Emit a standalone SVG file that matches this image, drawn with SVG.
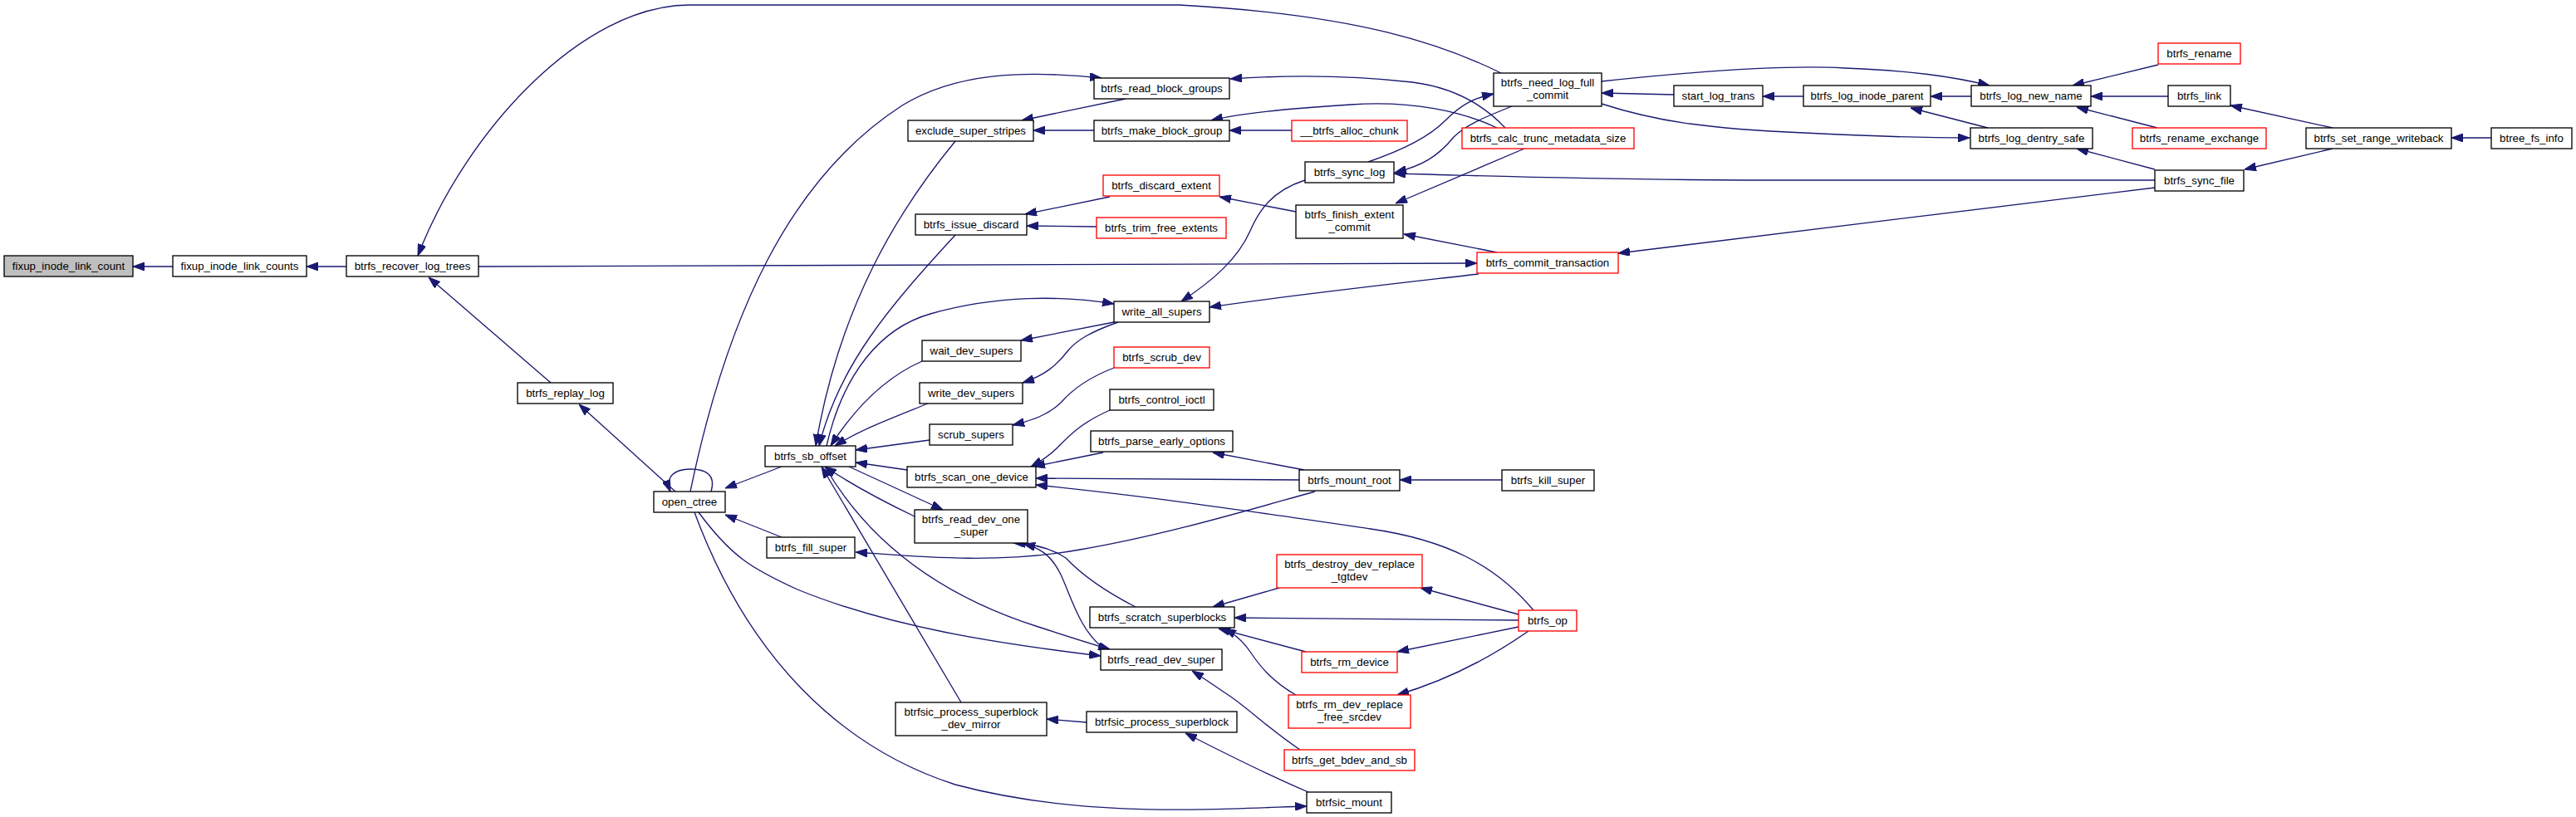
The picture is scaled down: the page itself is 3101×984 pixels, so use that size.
<svg xmlns="http://www.w3.org/2000/svg" width="3101" height="984" viewBox="0 0 3101 984">
<style>
.nd rect{fill:#fff;stroke:#000;stroke-width:1.33}
.rd rect{fill:#fff;stroke:#ff0000;stroke-width:1.33}
.root rect{fill:#bfbfbf;stroke:#000;stroke-width:1.33}
text{font-family:"Liberation Sans",Arial,Helvetica,sans-serif;font-size:13.3px;text-anchor:middle;fill:#000}
#edges path{fill:none;stroke:#191970;stroke-width:1.33;marker-end:url(#ah)}
</style>
<defs>
<marker id="ah" viewBox="0 0 14 10" refX="14" refY="5" markerWidth="14" markerHeight="10" markerUnits="userSpaceOnUse" orient="auto">
<path d="M0,0 L14,5 L0,10 z" fill="#191970" stroke="#191970" stroke-width="1"/>
</marker>
</defs>
<rect width="3101" height="984" fill="#fff"/>
<g id="edges">
<path d="M208,321 L160,321"/>
<path d="M417,321 L369,321"/>
<path d="M1807,88 C1740,55 1640,18 1420,6 L830,6 C700,6 560,160 503,308"/>
<path d="M663,461 L516,334"/>
<path d="M576,321 L1778,317"/>
<path d="M813,592 L697,487"/>
<path d="M856,592 C862,572 850,565 831,565 C812,565 800,574 807,592"/>
<path d="M831,592 C875,380 950,215 1086,127 C1150,88 1230,84 1326,94"/>
<path d="M941,562 L873,588"/>
<path d="M941,647 L873,620"/>
<path d="M841,617 C880,670 905,685 960,710 C1070,755 1200,775 1325,790"/>
<path d="M836,617 C900,790 1010,900 1150,945 C1300,985 1450,975 1573,971"/>
<path d="M1150,170 C1080,255 1010,370 982,537"/>
<path d="M1150,283 C1070,370 1010,440 986,537"/>
<path d="M995,537 C1015,450 1060,395 1120,378 C1200,355 1280,356 1341,366"/>
<path d="M1110,435 C1065,455 1030,490 1000,537"/>
<path d="M1117,486 C1070,505 1035,518 1005,537"/>
<path d="M1119,530 L1030,542"/>
<path d="M1092,566 L1030,557"/>
<path d="M1101,622 C1055,600 1020,580 993,562"/>
<path d="M1022,562 L1135,614"/>
<path d="M1157,846 L989,562"/>
<path d="M993,562 C1050,660 1140,720 1250,755 C1290,768 1315,776 1336,782"/>
<path d="M1330,782 C1300,760 1290,720 1277,692 C1265,668 1252,660 1232,655"/>
<path d="M1367,731 C1330,712 1300,690 1283,672 C1265,660 1245,655 1220,654"/>
<path d="M1565,903 C1530,880 1505,855 1480,838 C1462,826 1448,816 1435,808"/>
<path d="M1308,870 L1260,866"/>
<path d="M1575,954 C1530,935 1470,905 1427,883"/>
<path d="M1355,119 L1230,145"/>
<path d="M1317,157 L1244,157"/>
<path d="M1555,157 L1480,157"/>
<path d="M1812,154 C1780,120 1740,104 1700,99 C1620,90 1540,91 1481,95"/>
<path d="M1802,154 C1760,134 1700,121 1626,126 C1560,130 1500,135 1458,145"/>
<path d="M1336,237 L1234,258"/>
<path d="M1320,273 L1236,272"/>
<path d="M1560,255 L1468,237"/>
<path d="M1341,388 L1229,410"/>
<path d="M1346,388 C1312,400 1296,410 1286,422 C1272,440 1258,452 1231,461"/>
<path d="M1571,217 C1530,230 1515,255 1505,278 C1490,312 1460,338 1422,363"/>
<path d="M1780,330 C1650,345 1550,356 1456,370"/>
<path d="M1341,443 C1310,455 1292,468 1278,484 C1262,500 1243,506 1219,512"/>
<path d="M1336,494 C1300,510 1287,525 1272,540 C1262,550 1252,556 1241,562"/>
<path d="M1328,545 L1244,562"/>
<path d="M1570,566 L1460,545"/>
<path d="M1564,578 L1247,576"/>
<path d="M1846,735 C1800,680 1740,650 1650,637 C1500,615 1400,600 1247,584"/>
<path d="M1583,592 C1500,615 1400,645 1300,662 C1200,680 1100,670 1030,665"/>
<path d="M1808,578 L1685,578"/>
<path d="M1540,708 L1460,731"/>
<path d="M1828,740 L1710,708"/>
<path d="M1828,747 L1486,744"/>
<path d="M1572,785 L1467,757"/>
<path d="M1560,837 C1530,820 1515,800 1505,785 C1495,770 1485,763 1474,757"/>
<path d="M1828,755 L1682,785"/>
<path d="M1840,760 C1790,795 1740,820 1682,837"/>
<path d="M1647,195 C1690,180 1720,165 1740,145 C1760,125 1775,118 1798,113"/>
<path d="M1820,128 C1790,140 1765,150 1750,165 C1730,190 1710,200 1679,208"/>
<path d="M2594,217 L2100,217 C1900,216 1800,212 1678,209"/>
<path d="M1835,179 L1680,245"/>
<path d="M1802,304 L1690,282"/>
<path d="M2594,226 L1948,305"/>
<path d="M2015,114 L1928,112"/>
<path d="M1928,98 C2050,85 2150,78 2220,82 C2300,85 2350,92 2395,103"/>
<path d="M1928,125 C1990,145 2050,155 2172,160 C2250,164 2310,166 2371,166"/>
<path d="M2171,116 L2122,116"/>
<path d="M2373,116 L2324,116"/>
<path d="M2393,154 L2300,130"/>
<path d="M2598,78 L2495,103"/>
<path d="M2610,116 L2517,116"/>
<path d="M2597,154 L2500,129"/>
<path d="M2594,204 L2500,179"/>
<path d="M2808,154 L2685,127"/>
<path d="M2808,179 L2702,204"/>
<path d="M2999,166 L2951,166"/>
</g>
<g id="n1" class="root"><rect x="5" y="308" width="155" height="25"/><text x="82.5" y="325">fixup_inode_link_count</text></g>
<g id="n2" class="nd"><rect x="208" y="308" width="161" height="25"/><text x="288.5" y="325">fixup_inode_link_counts</text></g>
<g id="n3" class="nd"><rect x="417" y="308" width="159" height="25"/><text x="496.5" y="325">btrfs_recover_log_trees</text></g>
<g id="n4" class="nd"><rect x="623" y="461" width="115" height="25"/><text x="680.5" y="478">btrfs_replay_log</text></g>
<g id="n5" class="nd"><rect x="787" y="592" width="86" height="25"/><text x="830" y="609">open_ctree</text></g>
<g id="n6" class="nd"><rect x="921" y="537" width="109" height="25"/><text x="975.5" y="554">btrfs_sb_offset</text></g>
<g id="n7" class="nd"><rect x="923" y="647" width="106" height="25"/><text x="976" y="664">btrfs_fill_super</text></g>
<g id="n8" class="nd"><rect x="1093" y="145" width="151" height="25"/><text x="1168.5" y="162">exclude_super_stripes</text></g>
<g id="n9" class="nd"><rect x="1102" y="258" width="134" height="25"/><text x="1169" y="275">btrfs_issue_discard</text></g>
<g id="n10" class="nd"><rect x="1110" y="410" width="119" height="25"/><text x="1169.5" y="427">wait_dev_supers</text></g>
<g id="n11" class="nd"><rect x="1107" y="461" width="124" height="25"/><text x="1169" y="478">write_dev_supers</text></g>
<g id="n12" class="nd"><rect x="1119" y="511" width="100" height="25"/><text x="1169" y="528">scrub_supers</text></g>
<g id="n13" class="nd"><rect x="1092" y="562" width="155" height="25"/><text x="1169.5" y="579">btrfs_scan_one_device</text></g>
<g id="n14" class="nd"><rect x="1101" y="614" width="136" height="40"/><text x="1169" y="630">btrfs_read_dev_one</text><text x="1169" y="645">_super</text></g>
<g id="n15" class="nd"><rect x="1078" y="846" width="182" height="40"/><text x="1169" y="862">btrfsic_process_superblock</text><text x="1169" y="877">_dev_mirror</text></g>
<g id="n16" class="nd"><rect x="1317" y="94" width="163" height="25"/><text x="1398.5" y="111">btrfs_read_block_groups</text></g>
<g id="n17" class="nd"><rect x="1317" y="145" width="163" height="25"/><text x="1398.5" y="162">btrfs_make_block_group</text></g>
<g id="n18" class="rd"><rect x="1328" y="211" width="140" height="25"/><text x="1398" y="228">btrfs_discard_extent</text></g>
<g id="n19" class="rd"><rect x="1320" y="262" width="156" height="25"/><text x="1398" y="279">btrfs_trim_free_extents</text></g>
<g id="n20" class="nd"><rect x="1341" y="363" width="115" height="25"/><text x="1398.5" y="380">write_all_supers</text></g>
<g id="n21" class="rd"><rect x="1341" y="418" width="115" height="25"/><text x="1398.5" y="435">btrfs_scrub_dev</text></g>
<g id="n22" class="nd"><rect x="1336" y="469" width="125" height="25"/><text x="1398.5" y="486">btrfs_control_ioctl</text></g>
<g id="n23" class="nd"><rect x="1313" y="519" width="171" height="25"/><text x="1398.5" y="536">btrfs_parse_early_options</text></g>
<g id="n24" class="nd"><rect x="1312" y="731" width="174" height="25"/><text x="1399" y="748">btrfs_scratch_superblocks</text></g>
<g id="n25" class="nd"><rect x="1325" y="782" width="146" height="25"/><text x="1398" y="799">btrfs_read_dev_super</text></g>
<g id="n26" class="nd"><rect x="1308" y="857" width="181" height="25"/><text x="1398.5" y="874">btrfsic_process_superblock</text></g>
<g id="n27" class="rd"><rect x="1555" y="145" width="139" height="25"/><text x="1624.5" y="162">__btrfs_alloc_chunk</text></g>
<g id="n28" class="nd"><rect x="1571" y="195" width="107" height="25"/><text x="1624.5" y="212">btrfs_sync_log</text></g>
<g id="n29" class="nd"><rect x="1560" y="247" width="129" height="40"/><text x="1624.5" y="263">btrfs_finish_extent</text><text x="1624.5" y="278">_commit</text></g>
<g id="n30" class="nd"><rect x="1564" y="566" width="121" height="25"/><text x="1624.5" y="583">btrfs_mount_root</text></g>
<g id="n31" class="rd"><rect x="1537" y="668" width="175" height="40"/><text x="1624.5" y="684">btrfs_destroy_dev_replace</text><text x="1624.5" y="699">_tgtdev</text></g>
<g id="n32" class="rd"><rect x="1567" y="785" width="115" height="25"/><text x="1624.5" y="802">btrfs_rm_device</text></g>
<g id="n33" class="rd"><rect x="1551" y="837" width="147" height="40"/><text x="1624.5" y="853">btrfs_rm_dev_replace</text><text x="1624.5" y="868">_free_srcdev</text></g>
<g id="n34" class="rd"><rect x="1546" y="903" width="157" height="25"/><text x="1624.5" y="920">btrfs_get_bdev_and_sb</text></g>
<g id="n35" class="nd"><rect x="1573" y="954" width="102" height="25"/><text x="1624" y="971">btrfsic_mount</text></g>
<g id="n36" class="nd"><rect x="1798" y="88" width="130" height="40"/><text x="1863" y="104">btrfs_need_log_full</text><text x="1863" y="119">_commit</text></g>
<g id="n37" class="rd"><rect x="1760" y="154" width="207" height="25"/><text x="1863.5" y="171">btrfs_calc_trunc_metadata_size</text></g>
<g id="n38" class="rd"><rect x="1778" y="304" width="170" height="25"/><text x="1863" y="321">btrfs_commit_transaction</text></g>
<g id="n39" class="nd"><rect x="1808" y="566" width="111" height="25"/><text x="1863.5" y="583">btrfs_kill_super</text></g>
<g id="n40" class="rd"><rect x="1828" y="735" width="70" height="25"/><text x="1863" y="752">btrfs_op</text></g>
<g id="n41" class="nd"><rect x="2015" y="103" width="107" height="25"/><text x="2068.5" y="120">start_log_trans</text></g>
<g id="n42" class="nd"><rect x="2171" y="103" width="153" height="25"/><text x="2247.5" y="120">btrfs_log_inode_parent</text></g>
<g id="n43" class="nd"><rect x="2373" y="103" width="144" height="25"/><text x="2445" y="120">btrfs_log_new_name</text></g>
<g id="n44" class="nd"><rect x="2372" y="154" width="147" height="25"/><text x="2445.5" y="171">btrfs_log_dentry_safe</text></g>
<g id="n45" class="rd"><rect x="2598" y="52" width="99" height="25"/><text x="2647.5" y="69">btrfs_rename</text></g>
<g id="n46" class="nd"><rect x="2610" y="103" width="75" height="25"/><text x="2647.5" y="120">btrfs_link</text></g>
<g id="n47" class="rd"><rect x="2567" y="154" width="161" height="25"/><text x="2647.5" y="171">btrfs_rename_exchange</text></g>
<g id="n48" class="nd"><rect x="2594" y="205" width="107" height="25"/><text x="2647.5" y="222">btrfs_sync_file</text></g>
<g id="n49" class="nd"><rect x="2776" y="154" width="175" height="25"/><text x="2863.5" y="171">btrfs_set_range_writeback</text></g>
<g id="n50" class="nd"><rect x="2999" y="154" width="97" height="25"/><text x="3047.5" y="171">btree_fs_info</text></g>
</svg>
